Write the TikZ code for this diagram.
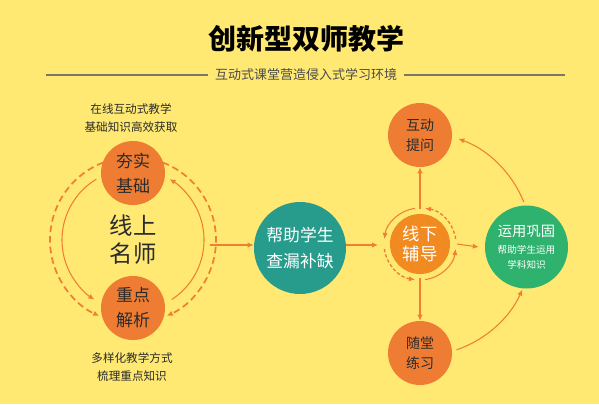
\documentclass[tikz,border=0pt]{standalone}
\usepackage{fontspec}
\setmainfont{Noto Sans CJK SC}
\usetikzlibrary{arrows.meta}

\definecolor{bgyellow}{HTML}{FFE972}
\definecolor{ballorange}{HTML}{EE7C32}
\definecolor{hotorange}{HTML}{F18A20}
\definecolor{arrorange}{HTML}{EF7F35}
\definecolor{tealball}{HTML}{289C8C}
\definecolor{greenball}{HTML}{2EB26E}
\definecolor{inkdark}{HTML}{2B2B2B}
\definecolor{rulegray}{HTML}{7A7766}

\tikzset{
  ball/.style={circle, fill=ballorange, inner sep=0pt, minimum size=48pt, align=center, text=inkdark},
  arr/.style={draw=arrorange, line width=0.8pt, -{Latex[length=4.5pt,width=4pt]}},
  dasharr/.style={arr, line width=1.3pt, dash pattern=on 5pt off 3pt},
  smalldash/.style={arr, line width=1pt, dash pattern=on 2.5pt off 1.6pt},
  note/.style={align=center, text=inkdark, font=\fontsize{8.7}{13}\selectfont},
}

\begin{document}
\begin{tikzpicture}[x=0.75pt,y=0.75pt]
\useasboundingbox (0,0) rectangle (599,-404);
\fill[bgyellow] (0,0) rectangle (599,-404);

% heading
\node[font=\bfseries\fontsize{21}{24}\selectfont, text=black] (title) at (306,-39) {创新型双师教学};
\node[font=\fontsize{9.75}{12}\selectfont, text=black!70, inner sep=5pt] (subtitle) at (306,-75) {互动式课堂营造侵入式学习环境};
\draw[rulegray, line width=1.3pt] (46,-75) -- (subtitle.west);
\draw[rulegray, line width=1.3pt] (subtitle.east) -- (565,-75);

% online teachers
\coordinate (lmid) at (133,-240);
\node[ball, font=\fontsize{12.75}{18.75}\selectfont] (hangshi) at (133,-173) {夯实\\基础};
\node[ball, font=\fontsize{12.75}{18.75}\selectfont] (zhongdian) at (133,-308) {重点\\解析};
\node[align=center, text=inkdark, font=\fontsize{17.5}{21}\selectfont] (mingshi) at (lmid) {线上\\名师};
\node[note] (topnote) at (131,-118) {在线互动式教学\\基础知识高效获取};
\node[note] (botnote) at (132,-367) {多样化教学方式\\梳理重点知识};

\draw[dasharr] (lmid) ++(111:83) arc[start angle=111, end angle=246, radius=62.25pt];
\draw[dasharr] (lmid) ++(69:83) arc[start angle=69, end angle=-66, radius=62.25pt];
\draw[arr] (lmid) ++(121:71) arc[start angle=121, end angle=237, radius=53.25pt];
\draw[arr] (lmid) ++(-57:71) arc[start angle=-57, end angle=59, radius=53.25pt];

% middle
\node[circle, fill=tealball, inner sep=0pt, minimum size=69pt, align=center, text=white,
      font=\fontsize{12.6}{20}\selectfont] (bangzhu) at (300,-248) {帮助学生\\查漏补缺};
\coordinate (lout) at (210,-245);
\draw[arr] (lout) -- (lout -| bangzhu.west);

% offline tutoring
\node[circle, fill=hotorange, inner sep=0pt, minimum size=45pt, align=center, text=white,
      font=\fontsize{13}{14.5}\selectfont] (xianxia) at (420,-244) {线下\\辅导};
\node[ball, font=\fontsize{10.5}{15}\selectfont] (hudong) at (420,-135) {互动\\提问};
\node[ball, font=\fontsize{10.5}{15}\selectfont] (suitang) at (420,-353) {随堂\\练习};
\node[circle, fill=greenball, inner sep=0pt, minimum size=62.25pt, align=center, text=white,
      font=\fontsize{7.2}{11}\selectfont] (yunyong) at (526.5,-247)
  {{\fontsize{10.7}{13}\selectfont 运用巩固}\\[2pt]帮助学生运用\\学科知识};

\draw[arr] (bangzhu.east |- lout) -- ([xshift=-31.5pt]xianxia.center |- lout);
\draw[arr] ([xshift=27.75pt]xianxia.center) -- ([xshift=-4.5pt]yunyong.west);
\draw[arr] ([yshift=26.25pt]xianxia.center) -- (hudong.south);
\draw[arr] ([yshift=-25.5pt]xianxia.center) -- (suitang.north);

\draw[smalldash] (xianxia.center) ++(8:36) arc[start angle=8, end angle=82, radius=27pt];
\draw[arr] (xianxia.center) ++(98:36) arc[start angle=98, end angle=172, radius=27pt];
\draw[smalldash] (xianxia.center) ++(188:36) arc[start angle=188, end angle=262, radius=27pt];
\draw[arr] (xianxia.center) ++(278:36) arc[start angle=278, end angle=352, radius=27pt];

\draw[arr] (xianxia.center) ++(-71:112) arc[start angle=-71, end angle=-24, radius=84pt];
\draw[arr] (xianxia.center) ++(22:112) arc[start angle=22, end angle=70, radius=84pt];
\end{tikzpicture}
\end{document}
